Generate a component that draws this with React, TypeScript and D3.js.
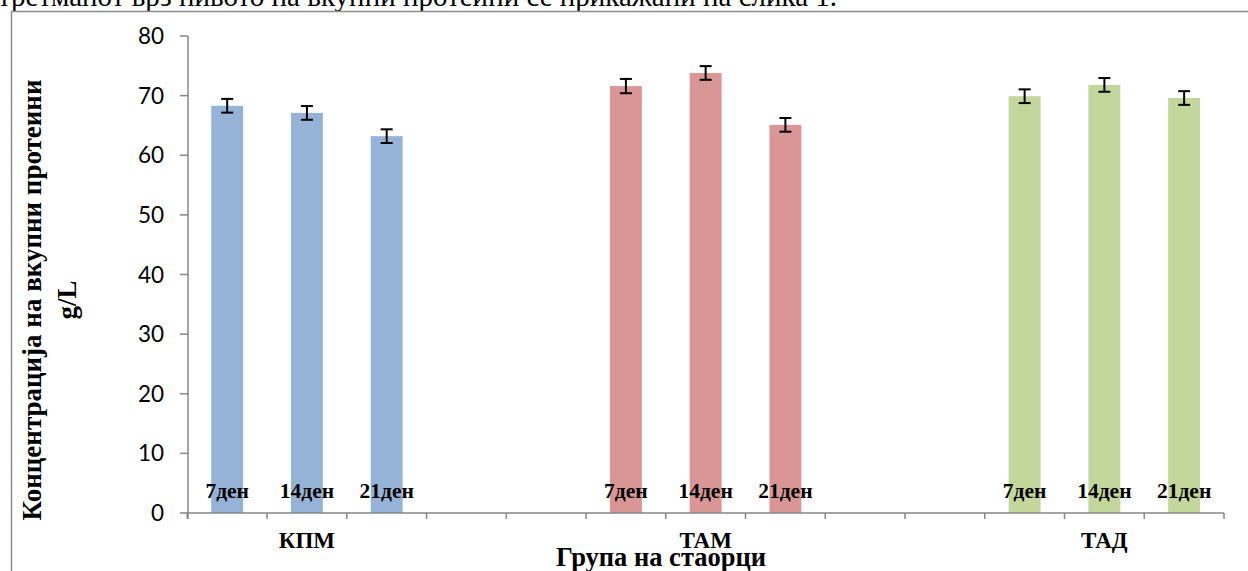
import React from "react";
import * as d3 from "d3";

const groups = ["КПМ", "ТАМ", "ТАД"];
const days = ["7ден", "14ден", "21ден"];
const kpmValues = [68.3, 67.1, 63.2];
const tamValues = [71.6, 73.8, 65.1];
const tadValues = [69.9, 71.8, 69.6];
const kpmErrors = [1.15, 1.15, 1.15];
const tamErrors = [1.2, 1.15, 1.15];
const tadErrors = [1.15, 1.15, 1.15];
const yTicks = [0, 10, 20, 30, 40, 50, 60, 70, 80];
const colors = ["#95B3D7", "#D99694", "#C3D69B"];

const seriesValues = [kpmValues, tamValues, tadValues];
const seriesErrors = [kpmErrors, tamErrors, tadErrors];

const W = 1248;
const H = 571;
const SLOTS = 13;
const SERIF = "'Liberation Serif', 'Times New Roman', serif";
const SANS = "Lato, 'Noto Sans', sans-serif";

export default function App() {
  const x0 = 187.3;
  const x1 = 1224;
  const slotIds = d3.range(SLOTS).map(String);
  const x = d3.scaleBand<string>().domain(slotIds).range([x0, x1]).paddingInner(0.6).paddingOuter(0.3);
  const step = x.step();
  const y = d3.scaleLinear().domain([0, 80]).range([513, 36]);

  const bars: { g: number; d: number; v: number; e: number; slot: number }[] = [];
  groups.forEach((_, g) => {
    days.forEach((__, d) => {
      bars.push({ g, d, v: seriesValues[g][d], e: seriesErrors[g][d], slot: g * 5 + d });
    });
  });

  const axisColor = "#868686";
  const boundaries = d3.range(SLOTS + 1).map((i) => x0 + i * step);

  return (
    <svg width={W} height={H} style={{ position: "absolute", left: 0, top: 0, background: "#fff" }}>
      <text x={-2} y={6} fontFamily={SERIF} fontSize={29} fill="#000">
        третманот врз нивото на вкупни протеини се прикажани на слика 1.
      </text>
      <path d={`M11.5,${H} V11.5 H${W + 2}`} fill="none" stroke="#8c8c8c" strokeWidth={1.5} />

      {/* bars */}
      {bars.map((b, i) => {
        const bx = x(String(b.slot))!;
        return (
          <rect key={"b" + i} x={bx} y={y(b.v)} width={x.bandwidth()} height={y(0) - y(b.v)} fill={colors[b.g]} />
        );
      })}

      {/* error bars */}
      {bars.map((b, i) => {
        const cx = x(String(b.slot))! + x.bandwidth() / 2;
        const yt = y(b.v + b.e);
        const yb = y(b.v - b.e);
        return (
          <g key={"e" + i} stroke="#000" strokeWidth={2}>
            <line x1={cx} x2={cx} y1={yt} y2={yb} />
            <line x1={cx - 6} x2={cx + 6} y1={yt} y2={yt} />
            <line x1={cx - 6} x2={cx + 6} y1={yb} y2={yb} />
          </g>
        );
      })}

      {/* y axis */}
      <line x1={188} x2={188} y1={y(80)} y2={y(0) + 6} stroke={axisColor} strokeWidth={1.5} />
      {yTicks.map((t) => (
        <g key={"yt" + t}>
          <line x1={180} x2={188} y1={y(t)} y2={y(t)} stroke={axisColor} strokeWidth={1.5} />
          <text x={164} y={y(t)} dy="0.36em" textAnchor="end" fontFamily={SANS} fontSize={22.5} fill="#000">
            {t}
          </text>
        </g>
      ))}

      {/* x axis */}
      <line x1={x0} x2={x1} y1={y(0)} y2={y(0)} stroke={axisColor} strokeWidth={1.5} />
      {boundaries.map((bx, i) => (
        <line key={"xt" + i} x1={bx} x2={bx} y1={y(0)} y2={y(0) + 6} stroke={axisColor} strokeWidth={1.5} />
      ))}

      {/* bar labels */}
      {bars.map((b, i) => {
        const cx = x(String(b.slot))! + x.bandwidth() / 2;
        return (
          <text key={"l" + i} x={cx} y={497.5} textAnchor="middle" fontFamily={SERIF} fontWeight="bold" fontSize={21.5} fill="#000">
            {days[b.d]}
          </text>
        );
      })}

      {/* group labels */}
      {groups.map((g, gi) => {
        const cx = x(String(gi * 5 + 1))! + x.bandwidth() / 2;
        return (
          <text key={"g" + gi} x={cx} y={548} textAnchor="middle" fontFamily={SERIF} fontWeight="bold" fontSize={23} fill="#000">
            {g}
          </text>
        );
      })}

      {/* x title */}
      <text x={661} y={566} textAnchor="middle" fontFamily={SERIF} fontWeight="bold" fontSize={26.5} fill="#000">
        Група на стаорци
      </text>

      {/* y title */}
      <g transform="translate(0,300) rotate(-90)">
        <text x={0} y={41} textAnchor="middle" fontFamily={SERIF} fontWeight="bold" fontSize={27} fill="#000">
          Концентрација на вкупни протеини
        </text>
        <text x={0} y={76} textAnchor="middle" fontFamily={SERIF} fontWeight="bold" fontSize={27} fill="#000">
          g/L
        </text>
      </g>
    </svg>
  );
}
